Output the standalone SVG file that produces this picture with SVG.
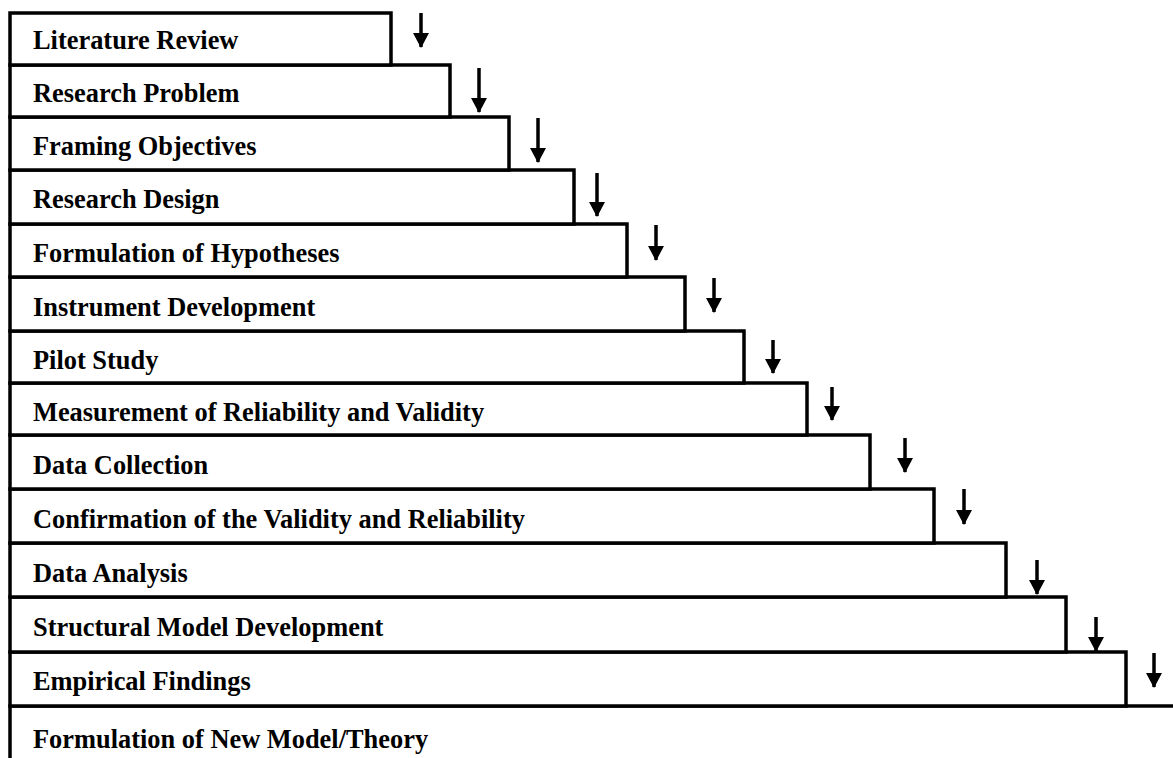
<svg xmlns="http://www.w3.org/2000/svg" width="1173" height="758" viewBox="0 0 1173 758">
<style>
.box{fill:#fff;stroke:#000;stroke-width:3.5}
.t{font-family:"Liberation Serif","Times New Roman",serif;font-weight:bold;font-size:26.4px;fill:#000}
.ar{stroke:#000;stroke-width:3.5;fill:none;marker-end:url(#ah)}
</style>
<defs>
<marker id="ah" markerUnits="userSpaceOnUse" markerWidth="15" markerHeight="16" refX="14" refY="8" orient="auto" viewBox="0 0 15 16">
<path d="M0,0 L15,8 L0,16 Z" fill="#000"/>
</marker>
</defs>
<rect width="1173" height="758" fill="#fff"/>
<g id="n14"><path class="box" d="M10,758 L10,706 L1173,706" fill="none"/><text class="t" x="33" y="748">Formulation of New Model/Theory</text></g>
<g id="n13"><rect class="box" x="10" y="652" width="1116" height="54"/><text class="t" x="33" y="690">Empirical Findings</text></g>
<g id="n12"><rect class="box" x="10" y="597" width="1056" height="55"/><text class="t" x="33" y="636">Structural Model Development</text></g>
<g id="n11"><rect class="box" x="10" y="543" width="996" height="54"/><text class="t" x="33" y="582">Data Analysis</text></g>
<g id="n10"><rect class="box" x="10" y="489" width="924" height="54"/><text class="t" x="33" y="528">Confirmation of the Validity and Reliability</text></g>
<g id="n9"><rect class="box" x="10" y="435" width="860" height="54"/><text class="t" x="33" y="474">Data Collection</text></g>
<g id="n8"><rect class="box" x="10" y="383" width="797" height="52"/><text class="t" x="33" y="421">Measurement of Reliability and Validity</text></g>
<g id="n7"><rect class="box" x="10" y="331" width="734" height="52"/><text class="t" x="33" y="369">Pilot Study</text></g>
<g id="n6"><rect class="box" x="10" y="277" width="675" height="54"/><text class="t" x="33" y="316">Instrument Development</text></g>
<g id="n5"><rect class="box" x="10" y="224" width="617" height="53"/><text class="t" x="33" y="262">Formulation of Hypotheses</text></g>
<g id="n4"><rect class="box" x="10" y="170" width="564" height="54"/><text class="t" x="33" y="208">Research Design</text></g>
<g id="n3"><rect class="box" x="10" y="117" width="499" height="53"/><text class="t" x="33" y="155">Framing Objectives</text></g>
<g id="n2"><rect class="box" x="10" y="65" width="440" height="52"/><text class="t" x="33" y="102">Research Problem</text></g>
<g id="n1"><rect class="box" x="10" y="13" width="381" height="52"/><text class="t" x="33" y="49">Literature Review</text></g>
<g id="connectors">
<line class="ar" x1="421" y1="13" x2="421" y2="47"/>
<line class="ar" x1="479" y1="68" x2="479" y2="112"/>
<line class="ar" x1="538" y1="118" x2="538" y2="162"/>
<line class="ar" x1="597" y1="173" x2="597" y2="216"/>
<line class="ar" x1="656" y1="225" x2="656" y2="260"/>
<line class="ar" x1="714" y1="278" x2="714" y2="312"/>
<line class="ar" x1="773" y1="340" x2="773" y2="373"/>
<line class="ar" x1="832" y1="387" x2="832" y2="420"/>
<line class="ar" x1="905" y1="438" x2="905" y2="472"/>
<line class="ar" x1="964" y1="489" x2="964" y2="524"/>
<line class="ar" x1="1037" y1="560" x2="1037" y2="594"/>
<line class="ar" x1="1096" y1="617" x2="1096" y2="651"/>
<line class="ar" x1="1154" y1="653" x2="1154" y2="687"/>
</g>
</svg>
